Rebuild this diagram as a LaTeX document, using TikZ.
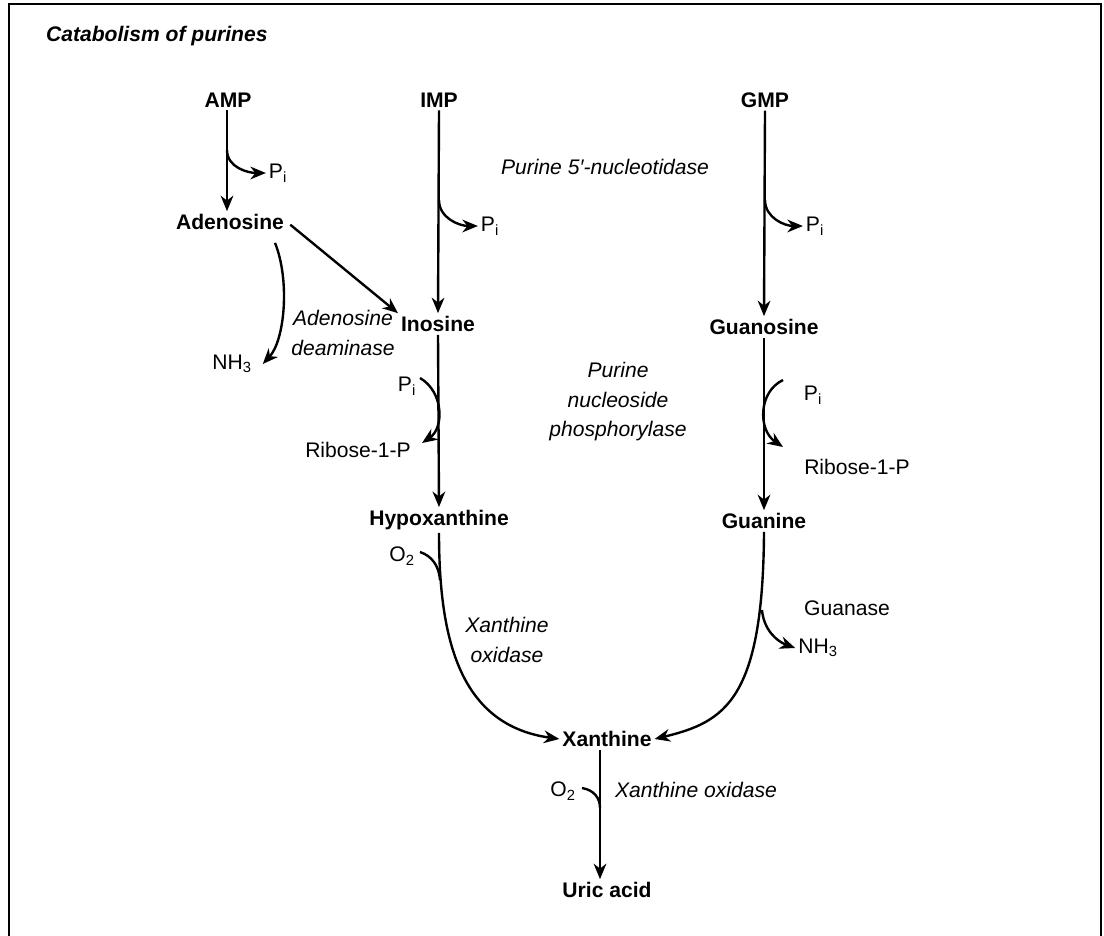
\documentclass[tikz,border=0pt]{standalone}
\usepackage{fontspec}
\setmainfont{Liberation Sans}
\usetikzlibrary{arrows.meta}

\begin{document}
\begin{tikzpicture}[x=0.025cm, y=-0.025cm,
    every node/.style={font=\fontsize{15}{21}\selectfont, inner sep=2pt},
    cpd/.style={font=\fontsize{15}{21}\selectfont\bfseries},
    enz/.style={font=\fontsize{15}{21}\selectfont\itshape, align=center},
    arr/.style={-{Stealth[length=11pt,width=9pt,inset=3.5pt]}, line width=1.7pt},
    br/.style={line width=1.7pt}]
      \useasboundingbox (0,0) rectangle (1104,935);
      \draw[line width=1.7pt] (9,945) -- (9,4) -- (1101,4) -- (1101,945);
      \node[anchor=west, font=\fontsize{15}{21}\selectfont\bfseries\itshape] (title) at (43,36) {Catabolism of purines};

      \node[cpd] (amp) at (228,100) {AMP};
      \node[cpd] (imp) at (439,100) {IMP};
      \node[cpd] (gmp) at (765,100) {GMP};
      \node[cpd] (adenosine) at (230,222) {Adenosine};
      \node[cpd] (inosine) at (438,324) {Inosine};
      \node[cpd] (guanosine) at (764,327) {Guanosine};
      \node[cpd] (hypox) at (439,520) {Hypoxanthine};
      \node[cpd] (guanine) at (764,521) {Guanine};
      \node[cpd] (xanthine) at (607,739) {Xanthine};
      \node[cpd] (uric) at (607,890) {Uric acid};

      \node (piA) at (278,173) {P\textsubscript{i}};
      \node (piI) at (490,226) {P\textsubscript{i}};
      \node (piG) at (815,226) {P\textsubscript{i}};
      \node (nhA) at (232,364) {NH\textsubscript{3}};
      \node (piI2) at (407,386) {P\textsubscript{i}};
      \node (riboI) at (358,450) {Ribose-1-P};
      \node (piG2) at (813,395) {P\textsubscript{i}};
      \node (riboG) at (857,467) {Ribose-1-P};
      \node (o2H) at (402,556) {O\textsubscript{2}};
      \node (o2X) at (563,791) {O\textsubscript{2}};
      \node (guanase) at (847,608) {Guanase};
      \node (nhG) at (818,648) {NH\textsubscript{3}};

      \node[enz] (nucl) at (605,167) {Purine 5′-nucleotidase};
      \node[enz] (ada) at (343,333) {Adenosine\\deaminase};
      \node[enz] (pnp) at (618,402) {Purine\\nucleoside\\phosphorylase};
      \node[enz] (xoH) at (507,640) {Xanthine\\oxidase};
      \node[enz] (xoX) at (696,790) {Xanthine oxidase};

      \coordinate (ampb) at (227,150);
      \coordinate (impb) at (439,200);
      \coordinate (gmpb) at (765,200);
      \coordinate (piIs) at (420,378);
      \coordinate (riboIt) at (422,443);
      \coordinate (piGs) at (783,380);
      \coordinate (riboGt) at (783,447);
      \coordinate (o2Hs) at (420,552);
      \coordinate (hxj) at (440,580);
      \coordinate (o2Xs) at (582,788);
      \coordinate (xj) at (600,808);
      \coordinate (gnb) at (762,610);

      \draw[arr] (amp.south -| ampb) -- (adenosine.north -| ampb);
      \draw[arr] (ampb) to[out=-90,in=180] (piA.west);
      \draw[arr] (imp.south) -- (inosine.north);
      \draw[arr] (impb) to[out=-90,in=180] (piI.west);
      \draw[arr] (gmp.south) -- (guanosine.north);
      \draw[arr] (gmpb) to[out=-90,in=180] (piG.west);
      \draw[arr, shorten <=3pt] (adenosine.east) -- (inosine.north west);
      \draw[arr] ([xshift=-0.3cm,yshift=-0.25cm]adenosine.south east) .. controls (290,280) and (285,340) .. ([xshift=0.2cm]nhA.east);
      \draw[arr] (inosine.south) -- (hypox.north);
      \draw[arr] (piIs) .. controls (444,392) and (444,428) .. (riboIt);
      \draw[arr] (guanosine.south) -- (guanine.north);
      \draw[arr] (piGs) .. controls (758,392) and (758,430) .. (riboGt);
      \draw[arr] (hypox.south) .. controls (439,640) and (460,725) .. (xanthine.west);
      \draw[br] (o2Hs) .. controls (432,556) and (439,566) .. (hxj);
      \draw[arr] (guanine.south) .. controls (763,700) and (725,722) .. (xanthine.east);
      \draw[arr] (gnb) to[out=-85,in=160] (nhG.west);
      \draw[arr] (xanthine.south -| xj) -- (uric.north -| xj);
      \draw[br] (o2Xs) .. controls (594,790) and (600,798) .. (xj);
\end{tikzpicture}
\end{document}
